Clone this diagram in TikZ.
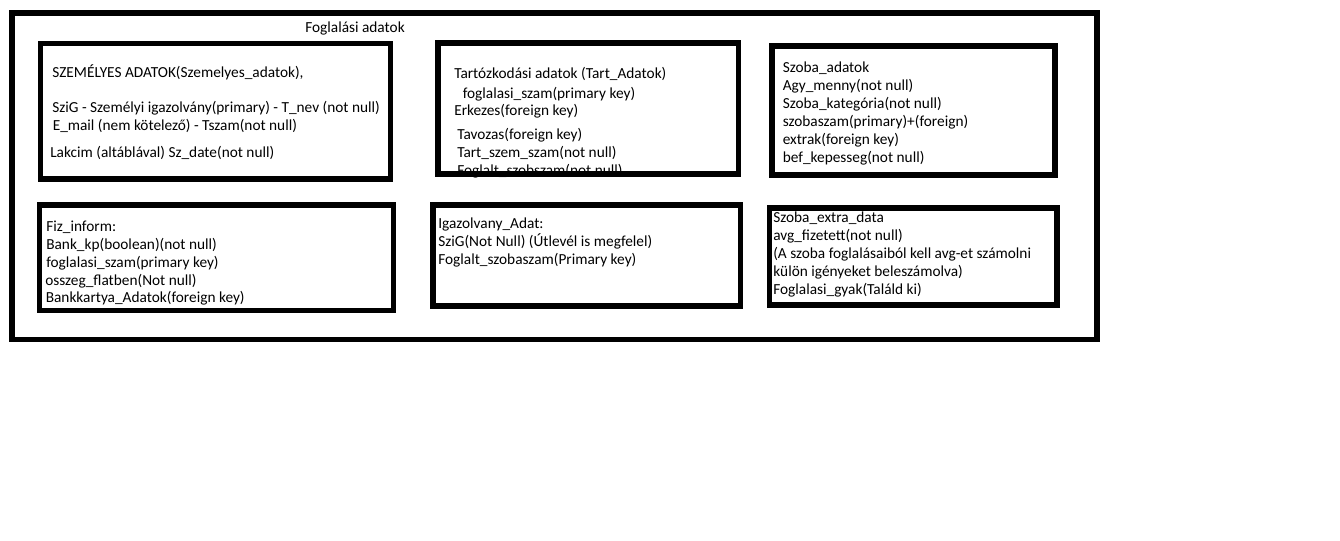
\documentclass[tikz,border=0pt]{standalone}
\usepackage{fontspec}
\setmainfont{Carlito}
\begin{document}
\begin{tikzpicture}[x=0.75pt,y=-0.75pt,
  txt/.style={anchor=base west,inner sep=0pt,font=\fontsize{11.5}{13}\selectfont},
  frame/.style={line width=4.1pt,line join=miter}]
\useasboundingbox (0,0) rectangle (1340,540);
% title
\node[txt] (title) at (305,32) {Foglalási adatok};
% box 1
\node[txt] (a1) at (52,77) {SZEMÉLYES ADATOK(Szemelyes\_adatok),};
\node[txt] (a2) at (52,112) {SziG - Személyi igazolvány(primary) - T\_nev (not null)};
\node[txt] (a3) at (52.5,130) {E\_mail (nem kötelező) - Tszam(not null)};
\node[txt] (a4) at (50,157) {Lakcim (altáblával) Sz\_date(not null)};
% box 2
\node[txt] (b1) at (454,78) {Tartózkodási adatok (Tart\_Adatok)};
\node[txt] (b2) at (462.5,98) {foglalasi\_szam(primary key)};
\node[txt] (b3) at (454,115) {Erkezes(foreign key)};
\node[txt] (b4) at (457,139.5) {Tavozas(foreign key)};
\node[txt] (b5) at (457,157.5) {Tart\_szem\_szam(not null)};
\node[txt] (b6) at (457,175) {Foglalt\_szobszam(not null)};
% box 3
\node[txt] (c1) at (782.5,72) {Szoba\_adatok};
\node[txt] (c2) at (782.5,90) {Agy\_menny(not null)};
\node[txt] (c3) at (782.5,108) {Szoba\_kategória(not null)};
\node[txt] (c4) at (782.5,126) {szobaszam(primary)+(foreign)};
\node[txt] (c5) at (782.5,144) {extrak(foreign key)};
\node[txt] (c6) at (782.5,162) {bef\_kepesseg(not null)};
% box 4
\node[txt] (d1) at (46,231) {Fiz\_inform:};
\node[txt] (d2) at (46,249) {Bank\_kp(boolean)(not null)};
\node[txt] (d3) at (46,267) {foglalasi\_szam(primary key)};
\node[txt] (d4) at (45,285) {osszeg\_flatben(Not null)};
\node[txt] (d5) at (45.5,302.5) {Bankkartya\_Adatok(foreign key)};
% box 5
\node[txt] (e1) at (438,228) {Igazolvany\_Adat:};
\node[txt] (e2) at (438,246.5) {SziG(Not Null) (Útlevél is megfelel)};
\node[txt] (e3) at (438,264.5) {Foglalt\_szobaszam(Primary key)};
% box 6
\node[txt] (f1) at (773,222) {Szoba\_extra\_data};
\node[txt] (f2) at (773,240) {avg\_fizetett(not null)};
\node[txt] (f3) at (773,258) {(A szoba foglalásaiból kell avg-et számolni};
\node[txt] (f4) at (773,276.5) {külön igényeket beleszámolva)};
\node[txt] (f5) at (773,294.5) {Foglalasi\_gyak(Találd ki)};
% frames
\draw[frame] (12,13) rectangle (1097,339.5);
\draw[frame] (40.5,43.5) rectangle (390.5,179);
\draw[frame] (438,43) rectangle (738.5,174);
\draw[frame] (772,46) rectangle (1055,175);
\draw[frame] (39.5,205) rectangle (393.5,310.5);
\draw[frame] (433,205) rectangle (740.5,306);
\draw[frame] (769.5,208) rectangle (1057,305);
\end{tikzpicture}
\end{document}
